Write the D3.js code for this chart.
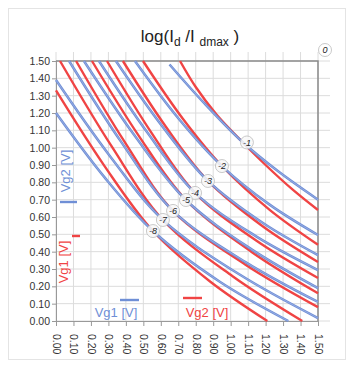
<!DOCTYPE html>
<html>
<head>
<meta charset="utf-8">
<script src="https://cdn.jsdelivr.net/npm/d3@7"></script>
<style>
  body { margin: 0; background: #fff; }
  svg { display: block; font-family: "Liberation Sans", Arial, sans-serif; }
</style>
</head>
<body>
<figure id="chart" style="margin:0"></figure>
<script>
// Tick values for both axes (volts)
const ticks = d3.range(0, 16).map(i => i / 10);

// Contour levels, log(Id/Idmax)
const levels = [-1, -2, -3, -4, -5, -6, -7, -8];

// Blue contours: x = Vg1, y = Vg2
const blueCurves = [
  [[0.65, 1.48], [0.85, 1.255], [1.06, 1.04], [1.27, 0.865], [1.50, 0.70]],
  [[0.452, 1.50], [0.70, 1.17], [0.95, 0.894], [1.225, 0.67], [1.50, 0.496]],
  [[0.343, 1.50], [0.607, 1.125], [0.87, 0.808], [1.185, 0.565], [1.50, 0.38]],
  [[0.246, 1.50], [0.521, 1.09], [0.796, 0.739], [1.148, 0.487], [1.50, 0.294]],
  [[0.16, 1.50], [0.452, 1.067], [0.744, 0.698], [1.122, 0.412], [1.50, 0.19]],
  [[0.075, 1.50], [0.372, 1.035], [0.67, 0.635], [1.085, 0.34], [1.50, 0.11]],
  [[0.0, 1.39], [0.306, 0.955], [0.612, 0.583], [1.056, 0.265], [1.50, 0.017]],
  [[0.0, 1.20], [0.277, 0.83], [0.555, 0.519], [0.94, 0.225], [1.33, 0.0]]
];

// Red contours: x = Vg2, y = Vg1
const redCurves = [
  [[0.71, 1.50], [0.80, 1.35], [0.92, 1.19], [1.06, 1.04], [1.20, 0.90], [1.357, 0.756], [1.50, 0.64]],
  [[0.498, 1.50], [0.724, 1.17], [0.95, 0.894], [1.225, 0.64], [1.50, 0.44]],
  [[0.383, 1.50], [0.626, 1.125], [0.87, 0.808], [1.185, 0.545], [1.50, 0.34]],
  [[0.292, 1.50], [0.544, 1.09], [0.796, 0.739], [1.148, 0.463], [1.50, 0.248]],
  [[0.206, 1.50], [0.475, 1.067], [0.744, 0.698], [1.122, 0.397], [1.50, 0.16]],
  [[0.115, 1.50], [0.392, 1.035], [0.67, 0.635], [1.085, 0.325], [1.50, 0.08]],
  [[0.023, 1.50], [0.317, 1.01], [0.612, 0.583], [1.011, 0.258], [1.41, 0.0]],
  [[0.0, 1.33], [0.277, 0.895], [0.555, 0.519], [0.882, 0.228], [1.21, 0.0]]
];

// Where each level label sits (about where red and blue cross)
const labelPos = [
  [1.093, 1.03], [0.95, 0.894], [0.87, 0.808], [0.796, 0.739],
  [0.744, 0.698], [0.67, 0.635], [0.612, 0.583], [0.555, 0.519]
];

const width = 354, height = 368;
const margin = { top: 61, right: 36, bottom: 47, left: 56 };
const blue = "#6f8fd6", blueInner = "#a7b9e8", red = "#f04444";

const svg = d3.select("#chart").append("svg")
  .attr("width", width)
  .attr("height", height);

// light outer frame
svg.append("rect")
  .attr("x", 8.5).attr("y", 8.5)
  .attr("width", 337).attr("height", 351)
  .attr("fill", "none").attr("stroke", "#e4e4e4");

const x = d3.scaleLinear().domain([0, 1.5]).range([margin.left, width - margin.right]);
const y = d3.scaleLinear().domain([0, 1.5]).range([height - margin.bottom, margin.top]);

// Grid lines (they run a little past the plot box)
svg.append("g").selectAll("line").data(ticks).join("line")
  .attr("x1", d => x(d)).attr("x2", d => x(d))
  .attr("y1", y(0)).attr("y2", y(1.5) - 9)
  .attr("stroke", "#dcdcdc");
svg.append("g").selectAll("line").data(ticks).join("line")
  .attr("x1", x(0)).attr("x2", x(1.5) + 12)
  .attr("y1", d => y(d)).attr("y2", d => y(d))
  .attr("stroke", "#dcdcdc");

// Axes
const yAxis = svg.append("g")
  .attr("transform", `translate(${x(0)},0)`)
  .call(d3.axisLeft(y).tickValues(ticks).tickFormat(d3.format(".2f")).tickSize(4));
const xAxis = svg.append("g")
  .attr("transform", `translate(0,${y(0)})`)
  .call(d3.axisBottom(x).tickValues(ticks).tickFormat(d3.format(".2f")).tickSize(5));

[xAxis, yAxis].forEach(a => {
  a.select(".domain").attr("stroke", "#999");
  a.selectAll(".tick line").attr("stroke", "#999");
  a.selectAll("text").attr("fill", "#333").style("font-size", "10.5px")
    .style("font-family", "'Liberation Sans', Arial, sans-serif");
});
yAxis.selectAll("text").attr("x", -6);
xAxis.selectAll("text")
  .attr("transform", "rotate(90)")
  .attr("x", 13).attr("y", 0).attr("dy", "0.35em")
  .style("text-anchor", "start");

// top and right border of the plot
svg.append("path")
  .attr("d", `M${x(0)},${y(1.5)}H${x(1.5)}V${y(0)}`)
  .attr("fill", "none").attr("stroke", "#8a8a8a").attr("stroke-width", 1.5);

// Contours
const line = d3.line()
  .x(d => x(d[0])).y(d => y(d[1]))
  .curve(d3.curveCatmullRom.alpha(0.5));

const plot = svg.append("g");
plot.selectAll(".red").data(redCurves).join("path")
  .attr("class", "red")
  .attr("d", line)
  .attr("fill", "none").attr("stroke", red).attr("stroke-width", 2.4);
plot.selectAll(".blue").data(blueCurves).join("path")
  .attr("class", "blue")
  .attr("d", line)
  .attr("fill", "none").attr("stroke", blue).attr("stroke-width", 2.5);
// blue lines look doubled: a faint lighter core
plot.selectAll(".blue-core").data(blueCurves).join("path")
  .attr("class", "blue-core")
  .attr("d", line)
  .attr("fill", "none").attr("stroke", blueInner).attr("stroke-width", 0.7);

// Level labels
const lab = svg.append("g").selectAll("g").data(levels).join("g")
  .attr("transform", (d, i) => `translate(${x(labelPos[i][0])},${y(labelPos[i][1])})`);
lab.append("circle").attr("r", 6.5)
  .attr("fill", "rgba(248,248,248,0.85)").attr("stroke", "#bbb").attr("stroke-width", 0.8);
lab.append("text").text(d => d)
  .attr("text-anchor", "middle").attr("dy", "0.35em")
  .style("font-size", "9px").style("font-style", "italic").attr("fill", "#222");

// the 0 level, outside the box
const zero = svg.append("g").attr("transform", `translate(${x(1.5) + 7},${y(1.5) - 11})`);
zero.append("circle").attr("r", 6.5).attr("fill", "#fff").attr("stroke", "#bbb").attr("stroke-width", 0.8);
zero.append("text").text("0").attr("text-anchor", "middle").attr("dy", "0.35em")
  .style("font-size", "9px").style("font-style", "italic").attr("fill", "#222");

// Title
const title = svg.append("text")
  .attr("x", 190).attr("y", 42)
  .attr("text-anchor", "middle")
  .style("font-size", "17px").attr("fill", "#222");
title.append("tspan").text("log(I");
title.append("tspan").text("d").attr("dy", 4).style("font-size", "12px");
title.append("tspan").text(" /I ").attr("dy", -4);
title.append("tspan").text("dmax").attr("dy", 4).style("font-size", "12px");
title.append("tspan").text(" )").attr("dy", -4);

// Legends
svg.append("text").text("Vg2 [V]")
  .attr("transform", "translate(70,171) rotate(-90)")
  .attr("text-anchor", "middle")
  .style("font-size", "13px").attr("fill", blue);
svg.append("line").attr("x1", 60).attr("x2", 77).attr("y1", 202).attr("y2", 202)
  .attr("stroke", blue).attr("stroke-width", 2.4);

svg.append("text").text("Vg1 [V]")
  .attr("transform", "translate(68,262) rotate(-90)")
  .attr("text-anchor", "middle")
  .style("font-size", "13px").attr("fill", red);
svg.append("line").attr("x1", 72).attr("x2", 80).attr("y1", 236).attr("y2", 236)
  .attr("stroke", red).attr("stroke-width", 2.4);

svg.append("text").text("Vg1 [V]")
  .attr("x", 116).attr("y", 317).attr("text-anchor", "middle")
  .style("font-size", "13px").attr("fill", blue);
svg.append("line").attr("x1", 120).attr("x2", 139).attr("y1", 300).attr("y2", 300)
  .attr("stroke", blue).attr("stroke-width", 2.4);

svg.append("text").text("Vg2 [V]")
  .attr("x", 207).attr("y", 317).attr("text-anchor", "middle")
  .style("font-size", "13px").attr("fill", red);
svg.append("line").attr("x1", 183).attr("x2", 202).attr("y1", 298).attr("y2", 298)
  .attr("stroke", red).attr("stroke-width", 2.4);
</script>
</body>
</html>
